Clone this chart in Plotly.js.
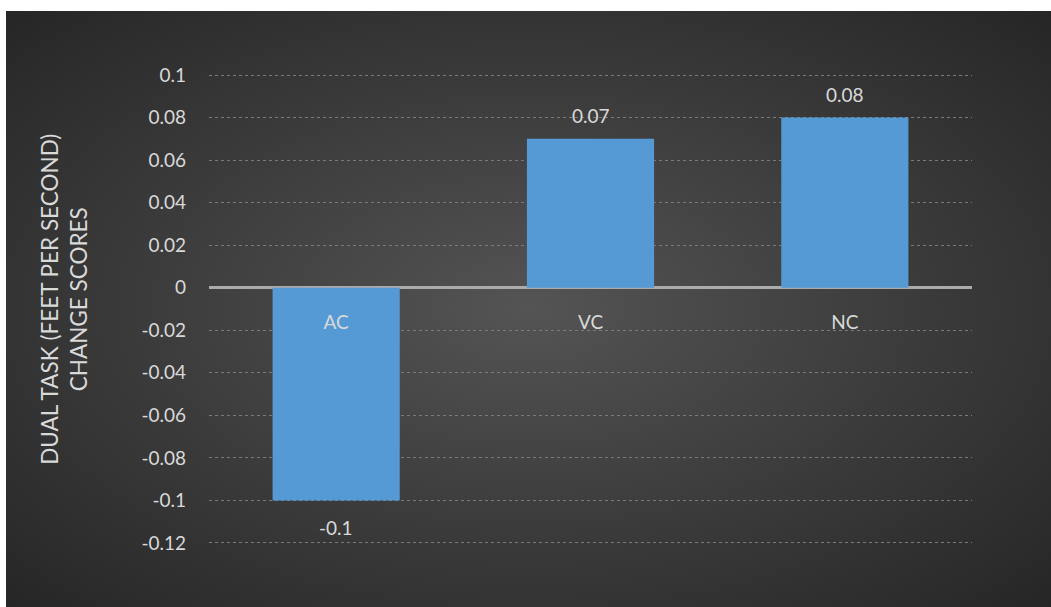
<!DOCTYPE html>
<html>
<head>
<meta charset="utf-8">
<script src="https://cdn.plot.ly/plotly-3.0.1.min.js"></script>
<style>
  html, body { margin: 0; padding: 0; background: #ffffff; width: 1051px; height: 607px; overflow: hidden; }
  #chart {
    position: absolute; left: 6px; top: 11px; width: 1045px; height: 596px;
    background: radial-gradient(ellipse farthest-corner at 50% 50%, #545454 0%, #3a3a3a 55%, #262626 100%);
  }
</style>
</head>
<body>
<div id="chart"></div>
<script>
const categories = ['AC', 'VC', 'NC'];
const values = [-0.1, 0.07, 0.08];
const valueLabels = ['-0.1', '0.07', '0.08'];
const yTickVals = [0.1, 0.08, 0.06, 0.04, 0.02, 0, -0.02, -0.04, -0.06, -0.08, -0.1, -0.12];
const yTickText = ['0.1', '0.08', '0.06', '0.04', '0.02', '0', '-0.02', '-0.04', '-0.06', '-0.08', '-0.1', '-0.12'];
const yTitle = 'DUAL TASK (FEET PER SECOND)<br>CHANGE SCORES';

const yMin = -0.1205, yMax = 0.1005;
const fontFam = 'Lato, "Open Sans", sans-serif';
const txtColor = '#d9d9d9';

const trace = {
  type: 'bar',
  x: categories,
  y: values,
  marker: { color: '#5599d5', line: { width: 0 } },
  hoverinfo: 'skip'
};

const annotations = values.map((v, i) => ({
  x: categories[i], y: v, xref: 'x', yref: 'y',
  text: valueLabels[i], showarrow: false,
  yshift: v >= 0 ? 23 : -27,
  font: { family: fontFam, size: 19, color: txtColor }
}));
annotations.push({
  xref: 'paper', yref: 'paper', x: -0.191, y: 0.52, xanchor: 'center', yanchor: 'middle',
  text: yTitle, showarrow: false, textangle: -90,
  font: { family: fontFam, size: 22.5, color: txtColor }
});

const layout = {
  width: 1045, height: 596,
  margin: { l: 203, r: 79, t: 63, b: 63 },
  paper_bgcolor: 'rgba(0,0,0,0)',
  plot_bgcolor: 'rgba(0,0,0,0)',
  bargap: 0.5,
  showlegend: false,
  xaxis: {
    type: 'category',
    anchor: 'free',
    position: (0 - yMin) / (yMax - yMin),
    showgrid: false, zeroline: false, showline: false,
    ticks: '', ticklabelstandoff: 21,
    tickfont: { family: fontFam, size: 19, color: txtColor }
  },
  yaxis: {
    range: [yMin, yMax],
    tickvals: yTickVals, ticktext: yTickText,
    showgrid: true, gridcolor: '#7a7a7a', griddash: 'dot', gridwidth: 1,
    zeroline: true, zerolinecolor: '#ababab', zerolinewidth: 3,
    showline: false, ticks: '', ticklabelstandoff: 22,
    tickfont: { family: fontFam, size: 19, color: txtColor }
  },
  annotations: annotations
};

Plotly.newPlot('chart', [trace], layout, { displayModeBar: false, staticPlot: true });
</script>
</body>
</html>
